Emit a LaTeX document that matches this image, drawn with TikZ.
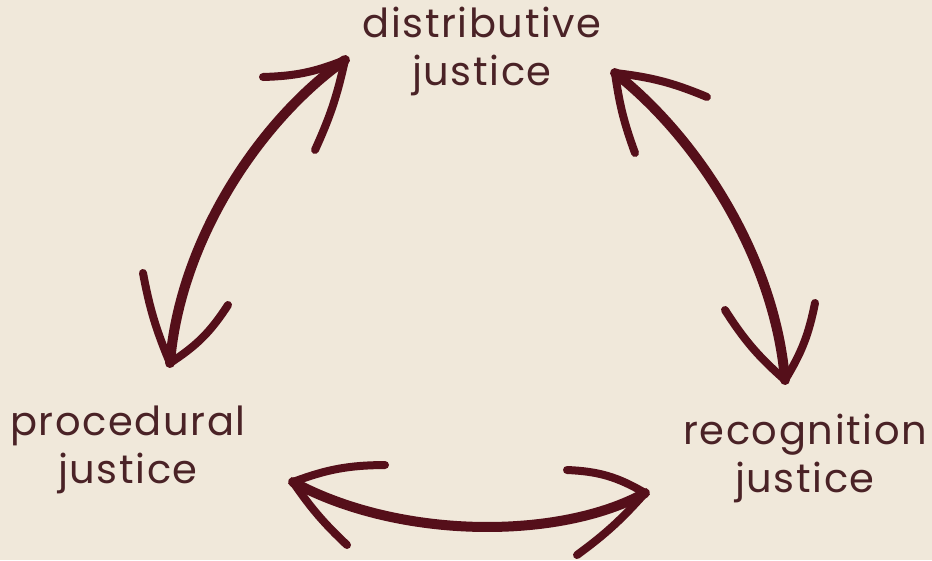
\documentclass[tikz,border=0pt]{standalone}
\usepackage{fontspec}
\setmainfont{Poppins}[LetterSpace=4]
\definecolor{paper}{HTML}{F0E8DA}
\definecolor{wine}{HTML}{550F1A}
\definecolor{ink}{HTML}{4A2226}

\begin{document}
\begin{tikzpicture}[x=1pt,y=-1pt,
  jlabel/.style={text=ink, font=\fontsize{40}{48}\selectfont, align=center, inner sep=0pt},
  shaft/.style={draw=wine, line width=10pt, line cap=round},
  barb/.style={draw=wine, line width=8pt, line cap=round}]
\fill[paper] (0,0) rectangle (932,560);
\useasboundingbox (0,0) rectangle (932,560);

% labels
\node[jlabel] (dist) at (482,51.5) {distributive\\justice};
\node[jlabel] (proc) at (128,449.5) {procedural\\justice};
\node[jlabel] (recog) at (805,458) {recognition\\justice};

% arrow ends
\coordinate (t1) at (345,60);
\coordinate (t1a) at (263,77);
\coordinate (t1b) at (315,150);
\coordinate (b1) at (170,363);
\coordinate (b1a) at (143,273);
\coordinate (b1b) at (228,305);
\coordinate (t2) at (615,73);
\coordinate (t2a) at (707,97);
\coordinate (t2b) at (635,153);
\coordinate (b2) at (785,380);
\coordinate (b2a) at (725,310);
\coordinate (b2b) at (815,303);
\coordinate (l3) at (293,482);
\coordinate (l3a) at (385,465);
\coordinate (l3b) at (347,545);
\coordinate (r3) at (645,493);
\coordinate (r3a) at (567,470);
\coordinate (r3b) at (577,555);

% distributive <-> procedural
\draw[shaft] (b1) .. controls (180,240) and (260,120) .. (t1);
\draw[barb] (t1) to[bend left=10] (t1a);
\draw[barb] (t1) to[bend left=6] (t1b);
\draw[barb] (b1) to[bend left=6] (b1a);
\draw[barb] (b1) to[bend right=12] (b1b);

% distributive <-> recognition
\draw[shaft] (t2) .. controls (700,140) and (775,260) .. (b2);
\draw[barb] (t2) to[bend left=8] (t2a);
\draw[barb] (t2) to[bend right=6] (t2b);
\draw[barb] (b2) to[bend left=8] (b2a);
\draw[barb] (b2) to[bend right=10] (b2b);

% procedural <-> recognition
\draw[shaft] (l3) .. controls (400,540) and (560,540) .. (r3);
\draw[barb] (l3) to[bend left=10] (l3a);
\draw[barb] (l3) to[bend right=6] (l3b);
\draw[barb] (r3) to[bend right=14] (r3a);
\draw[barb] (r3) to[bend left=6] (r3b);
\end{tikzpicture}
\end{document}
